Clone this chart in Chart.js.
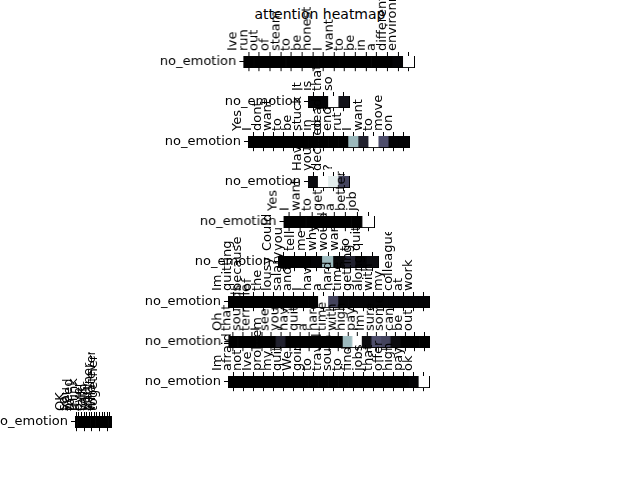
<!DOCTYPE html>
<html>
<head>
<meta charset="utf-8">
<script src="https://cdn.jsdelivr.net/npm/chart.js@4/dist/chart.umd.min.js"></script>
<style>
  body { margin: 0; width: 640px; height: 480px; background: #fff; position: relative; overflow: hidden; font-family: "DejaVu Sans", sans-serif; }
  canvas { position: absolute; }
  #title { position: absolute; top: 6px; left: 0; width: 640px; text-align: center; font-size: 14px; }
</style>
</head>
<body>
<div id="title">attention heatmap</div>
<script>
// words and attention values per sentence (0 = black, 1 = white)
const rowLabel = 'no_emotion';
const words1 = ['Ive','run','out','of','steam','to','be','honest','I','want','to','be','in','a','different','environment'];
const values1 = [0,0,0,0,0,0,0,0,0,0,0,0,0,0,0.02,1];
const words2 = ['It','is','that','so'];
const values2 = [0.02,0.02,1,0.08];
const words3 = ['Yes','I','dont','want','to','be','stuck','in','dead','end','rut','I','want','to','move','on'];
const values3 = [0,0,0,0,0,0,0,0,0,0,0.7,0.15,1,0.35,0.02,0.02];
const words4 = ['Have','you','decided','?'];
const values4 = [0.05,1,0.92,0.3];
const words5 = ['Yes','I','want','to','get','a','better','job'];
const values5 = [0,0,0,0,0,0,0,1];
const words6 = ['Could','you','tell','me','why','would','want','to','quit'];
const values6 = [0,0,0,0.02,0.7,0.03,0.15,0.02,0.05];
const words7 = ['Im','quitting','because','of','the','lousy','salary','and','I','have','a','hard','time','getting','along','with','my','colleagues','at','work'];
const values7 = [0,0,0,0,0,0,0,0,0,1,0.3,0.02,0.02,0.02,0.02,0.02,0.02,0.02,0.02,0.02];
const words8 = ['Oh','that','sounds','terrible','I','see','you','have','quite','a','hard','time','with','high','pay','Im','sure','some','can','be','out'];
const values8 = [0,0,0,0,0,0.15,0,0,0,0,0,0,0.7,1,0.05,0.35,0.3,0.05,0,0,0];
const words9 = ['Im','afraid','not','Ive','problem','my','quit','We','going','to','travel','south','to','find','jobs','that','offer','high','pay','ok'];
const values9 = [0,0,0,0,0,0,0,0,0,0,0,0,0,0,0,0,0,0,0.02,1];
const words10 = ['OK','so','you','need','to','think','it','over','talk','with','your','partner','whatever','together'];
const values10 = [0,0,0,0,0,0,0,0,0,0,0,0,0,0];

// placement: plot left x, centre y, cell width
const rows = [
  { words: words1, values: values1, x: 243, y: 63, cw: 10.6 },
  { words: words2, values: values2, x: 308, y: 103, cw: 10 },
  { words: words3, values: values3, x: 248, y: 143, cw: 10 },
  { words: words4, values: values4, x: 308, y: 183, cw: 10 },
  { words: words5, values: values5, x: 283, y: 223, cw: 11.2 },
  { words: words6, values: values6, x: 278, y: 263, cw: 11 },
  { words: words7, values: values7, x: 228, y: 303, cw: 10 },
  { words: words8, values: values8, x: 228, y: 343, cw: 9.5 },
  { words: words9, values: values9, x: 228, y: 383, cw: 10 },
  { words: words10, values: values10, x: 75, y: 423, cw: 2.5 }
];

// matplotlib "bone" colormap, approximated
const boneStops = [[0, [0,0,0]], [0.365, [81,81,113]], [0.746, [166,199,199]], [1, [255,255,255]]];
function bone(v) {
  for (let i = 1; i < boneStops.length; i++) {
    if (v <= boneStops[i][0]) {
      const a = boneStops[i-1], b = boneStops[i];
      const t = (v - a[0]) / (b[0] - a[0]);
      const c = a[1].map((x, k) => Math.round(x + (b[1][k] - x) * t));
      return `rgb(${c[0]},${c[1]},${c[2]})`;
    }
  }
  return 'rgb(255,255,255)';
}

const LEFT = 100, TOP = 64, BOTTOM = 8, CELL_H = 14;
Chart.defaults.font.family = 'DejaVu Sans';
Chart.defaults.font.size = 13;
Chart.defaults.color = '#000';

const tickGrid = { display: true, drawOnChartArea: false, drawTicks: true, tickLength: 4, color: '#000' };

rows.forEach(function(r) {
  const plotW = r.words.length * r.cw;
  const canvas = document.createElement('canvas');
  canvas.style.left = (r.x - LEFT) + 'px';
  canvas.style.top = (r.y - CELL_H / 2 - TOP) + 'px';
  canvas.style.width = (LEFT + plotW + 4) + 'px';
  canvas.style.height = (TOP + CELL_H + BOTTOM) + 'px';
  canvas.width = LEFT + plotW + 4;
  canvas.height = TOP + CELL_H + BOTTOM;
  document.body.appendChild(canvas);

  new Chart(canvas.getContext('2d'), {
    type: 'bar',
    data: {
      labels: r.words,
      datasets: [{
        data: r.values.map(() => [0, 1]),
        backgroundColor: r.values.map(bone),
        barPercentage: 1,
        categoryPercentage: 1,
        borderWidth: 0
      }]
    },
    options: {
      responsive: false,
      animation: false,
      layout: { padding: { right: 3 } },
      plugins: { legend: { display: false }, tooltip: { enabled: false } },
      scales: {
        x: {
          position: 'top',
          offset: true,
          grid: Object.assign({ offset: false }, tickGrid),
          border: { display: true, color: '#000' },
          ticks: { autoSkip: false, maxRotation: 90, minRotation: 90, padding: 1 },
          afterFit: function(s) { s.height = TOP; }
        },
        xb: {
          type: 'category',
          labels: r.words,
          position: 'bottom',
          offset: true,
          grid: Object.assign({ offset: false }, tickGrid),
          border: { display: true, color: '#000' },
          ticks: { display: true, color: 'rgba(0,0,0,0)', font: { size: 1 } },
          afterFit: function(s) { s.height = BOTTOM; }
        },
        y: {
          min: 0, max: 1,
          grid: tickGrid,
          border: { display: true, color: '#000' },
          afterBuildTicks: function(s) { s.ticks = [{ value: 0.5 }]; },
          ticks: { callback: () => rowLabel, padding: 3 },
          afterFit: function(s) { s.width = LEFT; }
        },
        yr: {
          position: 'right', min: 0, max: 1,
          grid: { display: false },
          border: { display: true, color: '#000' },
          ticks: { display: false },
          afterFit: function(s) { s.width = 0; }
        }
      }
    }
  });
});
</script>
</body>
</html>
